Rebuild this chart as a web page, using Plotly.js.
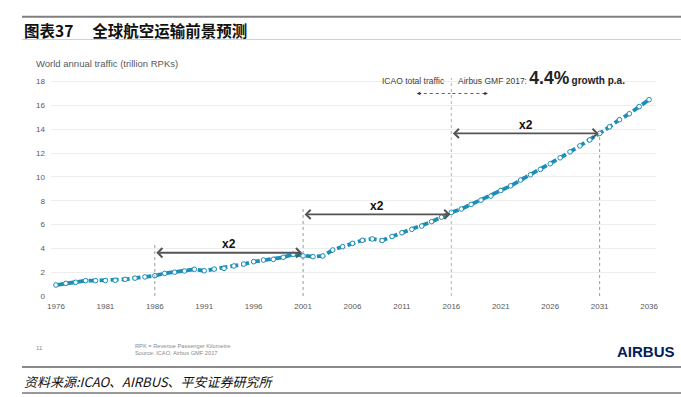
<!DOCTYPE html>
<html>
<head>
<meta charset="utf-8">
<script src="https://cdn.plot.ly/plotly-3.0.1.min.js"></script>
<style>
html,body{margin:0;padding:0;background:#fff;}
#chart{width:681px;height:397px;}
</style>
</head>
<body>
<div id="chart"></div>
<script>
// ---- data ----
const years = [];
for (let y = 1976; y <= 2036; y++) years.push(y);
const rpk = [
  0.92, 1.06, 1.15, 1.29, 1.29, 1.30, 1.32, 1.40, 1.50, 1.60,   // 1976-1985
  1.70, 1.90, 2.00, 2.10, 2.24, 2.12, 2.26, 2.32, 2.52, 2.68,   // 1986-1995
  2.88, 3.02, 3.08, 3.25, 3.50, 3.36, 3.30, 3.36, 3.86, 4.14,   // 1996-2005
  4.42, 4.68, 4.79, 4.66, 5.00, 5.31, 5.60, 5.87, 6.24, 6.62,   // 2006-2015
  7.02, 7.30, 7.69, 8.05, 8.39, 8.86, 9.25, 9.73, 10.18, 10.63, // 2016-2025
  11.10, 11.60, 12.10, 12.60, 13.10, 13.65, 14.20, 14.80, 15.30, 15.90, // 2026-2035
  16.48                                                          // 2036
];
const xTicks = [1976, 1981, 1986, 1991, 1996, 2001, 2006, 2011, 2016, 2021, 2026, 2031, 2036];
const yTicks = [0, 2, 4, 6, 8, 10, 12, 14, 16, 18];
const doublingStarts = [1986, 2001, 2016];
const doublingEnds = [2001, 2016, 2031];
const doublingLevels = [3.63, 6.85, 13.65];
const doublingLabels = ['x2', 'x2', 'x2'];
const dropTops = [4.28, 7.5, 13.65]; // tops of dotted guide lines at 1986, 2001, 2031

const lineColor = '#1c8db8';
const W = 681, H = 397;
const mL = 51, mR = 25, mT = 78, mB = 101;
const plotW = W - mL - mR, plotH = H - mT - mB;
const px2paperX = px => (px - mL) / plotW;
const py2paperY = py => (H - mB - py) / plotH;

const trace = {
  x: years, y: rpk, type: 'scatter', mode: 'lines+markers',
  line: {color: lineColor, width: 3.8, dash: '8px,3px'},
  marker: {size: 4.6, color: '#ffffff', line: {color: lineColor, width: 1}},
  hoverinfo: 'x+y', showlegend: false
};

const shapes = [];
const annotations = [];

// page rules
function hrule(py, color, width) {
  shapes.push({type: 'line', xref: 'paper', yref: 'paper',
    x0: px2paperX(22), x1: px2paperX(681), y0: py2paperY(py), y1: py2paperY(py),
    line: {color: color, width: width}});
}
hrule(16.7, '#7f7f7f', 2);
hrule(39.5, '#cfcfcf', 1);
hrule(367, '#8a8a8a', 2);
hrule(393, '#333333', 1);

// vertical guide lines
const guideYears = [1986, 2001, 2031];
guideYears.forEach((yr, i) => {
  shapes.push({type: 'line', xref: 'x', yref: 'y', x0: yr, x1: yr, y0: 0, y1: dropTops[i],
    line: {color: '#9a9a9a', width: 1, dash: 'dot'}});
});
shapes.push({type: 'line', xref: 'x', yref: 'y', x0: 2016, x1: 2016, y0: 0, y1: 18.3,
  line: {color: '#b4c2cf', width: 1.2, dash: 'dot'}});

// doubling arrows
doublingStarts.forEach((s, i) => {
  const e = doublingEnds[i], lv = doublingLevels[i];
  annotations.push({x: e - 0.1, y: lv, ax: s + 0.1, ay: lv, xref: 'x', yref: 'y', axref: 'x', ayref: 'y',
    text: ' ', font: {size: 1}, showarrow: true, arrowhead: 4, startarrowhead: 4,
    arrowside: 'end+start', arrowsize: 1, startarrowsize: 1, arrowwidth: 1.8, arrowcolor: '#555555',
    standoff: 0, startstandoff: 0, borderpad: 0});
  annotations.push({x: (s + e) / 2, y: lv + 0.72, xref: 'x', yref: 'y', text: '<b>' + doublingLabels[i] + '</b>',
    showarrow: false, font: {family: 'Liberation Sans, Arial, sans-serif', size: 12, color: '#111111'},
    xanchor: 'center', yanchor: 'middle'});
});

// ICAO / Airbus header
shapes.push({type: 'line', xref: 'x', yref: 'y', x0: 2012.6, x1: 2015.9, y0: 17.0, y1: 17.0,
  line: {color: '#333333', width: 0.8, dash: 'dot'}});
shapes.push({type: 'line', xref: 'x', yref: 'y', x0: 2016.1, x1: 2019.6, y0: 17.0, y1: 17.0,
  line: {color: '#333333', width: 0.8, dash: 'dot'}});
annotations.push({x: 2012.5, y: 17.0, xref: 'x', yref: 'y', ax: 6, ay: 0, text: ' ', font: {size: 1},
  showarrow: true, arrowhead: 2, arrowsize: 0.7, arrowwidth: 1, arrowcolor: '#333333', standoff: 0});
annotations.push({x: 2019.7, y: 17.0, xref: 'x', yref: 'y', ax: -6, ay: 0, text: ' ', font: {size: 1},
  showarrow: true, arrowhead: 2, arrowsize: 0.7, arrowwidth: 1, arrowcolor: '#333333', standoff: 0});
annotations.push({x: 2015.6, y: 17.45, xref: 'x', yref: 'y', text: 'ICAO total traffic', showarrow: false,
  xanchor: 'right', yanchor: 'bottom', font: {family: 'Liberation Sans, Arial, sans-serif', size: 8.5, color: '#404040'}});
annotations.push({x: 2016.45, y: 17.3, xref: 'x', yref: 'y',
  text: 'Airbus GMF 2017: <b><span style="font-size:17.5px;color:#222">4.4%</span> <span style="font-size:10px;color:#222">growth p.a.</span></b>',
  showarrow: false, xanchor: 'left', yanchor: 'bottom',
  font: {family: 'Liberation Sans, Arial, sans-serif', size: 8.5, color: '#404040'}});

// page texts
annotations.push({xref: 'paper', yref: 'paper', x: px2paperX(22), y: py2paperY(30), xanchor: 'left', yanchor: 'middle',
  text: '<b>图表37　 全球航空运输前景预测</b>', showarrow: false,
  font: {family: 'Noto Sans CJK SC, Liberation Sans, sans-serif', size: 15.5, color: '#111111'}});
annotations.push({xref: 'paper', yref: 'paper', x: px2paperX(34), y: py2paperY(64), xanchor: 'left', yanchor: 'middle',
  text: 'World annual traffic (trillion RPKs)', showarrow: false,
  font: {family: 'Liberation Sans, Arial, sans-serif', size: 9.5, color: '#595959'}});
annotations.push({xref: 'paper', yref: 'paper', x: px2paperX(34), y: py2paperY(348), xanchor: 'left', yanchor: 'middle',
  text: '11', showarrow: false, font: {family: 'Liberation Sans, Arial, sans-serif', size: 6, color: '#8a8a8a'}});
annotations.push({xref: 'paper', yref: 'paper', x: px2paperX(133), y: py2paperY(349), xanchor: 'left', yanchor: 'middle',
  text: 'RPK = Revenue Passenger Kilometre<br>Source: ICAO, Airbus GMF 2017', showarrow: false, align: 'left',
  font: {family: 'Liberation Sans, Arial, sans-serif', size: 5.7, color: '#8a8a8a'}});
annotations.push({xref: 'paper', yref: 'paper', x: px2paperX(677), y: py2paperY(351), xanchor: 'right', yanchor: 'middle',
  text: '<b>AIRBUS</b>', showarrow: false,
  font: {family: 'Liberation Sans, Arial, sans-serif', size: 15, color: '#00205b'}});
annotations.push({xref: 'paper', yref: 'paper', x: px2paperX(22), y: py2paperY(381), xanchor: 'left', yanchor: 'middle',
  text: '<i>资料来源:ICAO、AIRBUS、平安证券研究所</i>', showarrow: false,
  font: {family: 'Noto Sans CJK SC, Liberation Sans, sans-serif', size: 13, color: '#111111'}});

const layout = {
  width: W, height: H,
  margin: {l: mL, r: mR, t: mT, b: mB, pad: 0},
  paper_bgcolor: '#ffffff', plot_bgcolor: '#ffffff',
  showlegend: false,
  font: {family: 'Liberation Sans, Arial, sans-serif', size: 8, color: '#595959'},
  xaxis: {range: [1975.5, 2036.7], tickvals: xTicks, ticktext: xTicks.map(String),
    showgrid: false, zeroline: false, showline: false, ticks: '', ticklabelstandoff: 4,
    tickfont: {size: 8, color: '#595959'}, fixedrange: true},
  yaxis: {range: [0, 18.3], tickvals: yTicks, ticktext: yTicks.map(String),
    showgrid: true, gridcolor: '#ededed', gridwidth: 1, zeroline: false, showline: false, ticks: '',
    ticklabelstandoff: 5, tickfont: {size: 8, color: '#595959'}, fixedrange: true},
  shapes: shapes,
  annotations: annotations
};

Plotly.newPlot('chart', [trace], layout, {displayModeBar: false, staticPlot: true});
</script>
</body>
</html>
